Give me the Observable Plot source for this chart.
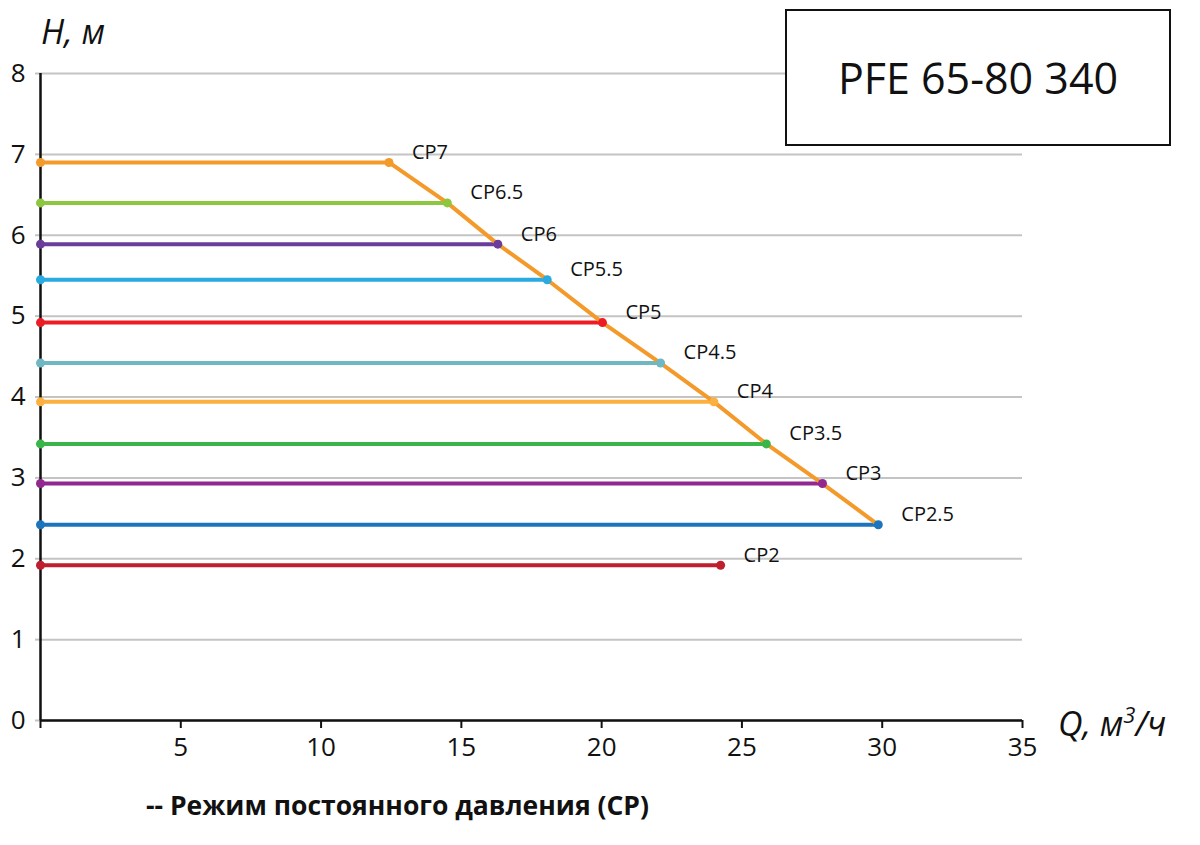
<!DOCTYPE html>
<html>
<head>
<meta charset="utf-8">
<script src="https://cdn.jsdelivr.net/npm/d3@7"></script>
<script src="https://cdn.jsdelivr.net/npm/@observablehq/plot@0.6"></script>
<style>
  html, body { margin: 0; padding: 0; background: #fff; }
  #wrap { position: relative; width: 1200px; height: 845px; font-family: "Open Sans", sans-serif; color: #111; }
  #box { position: absolute; left: 785px; top: 9px; width: 386px; height: 137px; box-sizing: border-box;
         border: 2.5px solid #111; background: #fff; display: flex; align-items: center; justify-content: center;
         font-size: 43px; color: #111; }
  .axtitle { position: absolute; font-style: italic; font-size: 34px; color: #111; white-space: nowrap; }
  #caption { height: 60px; line-height: 60px; padding-left: 146px; font-weight: 700; font-size: 26.5px; color: #111; }
</style>
</head>
<body>
<div id="wrap">
  <div id="chart"></div>
  <div id="caption">-- Режим постоянного давления (CP)</div>
  <div class="axtitle" style="left:41px; top:8px;">H, м</div>
  <div class="axtitle" style="left:1058px; top:700px;">Q, м<sup style="font-size:22px; vertical-align: 13px; line-height:0;">3</sup>/ч</div>
  <div id="box">PFE 65-80 340</div>
</div>
<script>
// Mode labels (constant pressure settings)
const labels = ["CP7", "CP6.5", "CP6", "CP5.5", "CP5", "CP4.5", "CP4", "CP3.5", "CP3", "CP2.5", "CP2"];
// Head H, m for each mode
const heads  = [6.90, 6.40, 5.89, 5.45, 4.92, 4.42, 3.94, 3.42, 2.93, 2.42, 1.92];
// Maximum flow Q, m3/h for each mode
const qMax   = [12.42, 14.50, 16.30, 18.06, 20.03, 22.10, 24.00, 25.87, 27.87, 29.86, 24.24];
// Line colours
const colors = ["#f39a2b", "#8dc63f", "#6b3d9a", "#29abe2", "#ed1c24", "#6fb7c3", "#fbb040", "#39b54a", "#92278f", "#1c75bc", "#be1e2d"];
// Boundary (max-curve) connects these modes
const boundary = ["CP7", "CP6.5", "CP6", "CP5.5", "CP5", "CP4.5", "CP4", "CP3.5", "CP3", "CP2.5"];
const xTicks = [0, 5, 10, 15, 20, 25, 30, 35];
const xTickLabels = [5, 10, 15, 20, 25, 30, 35];
const yTicks = [0, 1, 2, 3, 4, 5, 6, 7, 8];

const rows = [];
labels.forEach((l, i) => {
  rows.push({label: l, q: 0, h: heads[i]});
  rows.push({label: l, q: qMax[i], h: heads[i]});
});
const ends = labels.map((l, i) => ({label: l, q: qMax[i], h: heads[i]}));
const diag = ends.filter(d => boundary.includes(d.label)).sort((a, b) => a.q - b.q);

const chart = Plot.plot({
  width: 1200,
  height: 775,
  marginTop: 73,
  marginRight: 178,
  marginBottom: 55,
  marginLeft: 40,
  style: {fontFamily: "Open Sans, sans-serif", color: "#111", background: "transparent"},
  x: {domain: [0, 35], type: "linear"},
  y: {domain: [0, 8], type: "linear"},
  color: {domain: labels, range: colors},
  marks: [
    Plot.gridY(yTicks, {stroke: "#c4c4c4", strokeOpacity: 1, strokeWidth: 2}),
    Plot.axisY(yTicks, {tickSize: 5, stroke: "#c4c4c4", strokeWidth: 2, text: null, label: null}),
    Plot.text(yTicks, {x: yTicks.map(() => 0), y: yTicks, text: yTicks.map(String), dx: -15, textAnchor: "end", fontSize: 26, fill: "#111"}),
    Plot.axisX(xTicks, {tickSize: 8, stroke: "#111", strokeWidth: 2, text: null, label: null}),
    Plot.text(xTickLabels, {x: xTickLabels, y: xTickLabels.map(() => 0), text: xTickLabels.map(String), dy: 27, fontSize: 26, fill: "#111"}),
    Plot.ruleX([0], {stroke: "#111", strokeWidth: 2.5}),
    Plot.ruleY([0], {stroke: "#111", strokeWidth: 2.5}),
    Plot.line(rows, {x: "q", y: "h", z: "label", stroke: "label", strokeWidth: 4}),
    Plot.line(diag, {x: "q", y: "h", stroke: "#f39a2b", strokeWidth: 4}),
    Plot.dot(rows, {x: "q", y: "h", fill: "label", r: 4.5}),
    Plot.text(ends, {x: "q", y: "h", text: "label", dx: 23, dy: -10, textAnchor: "start", fontSize: 20, fill: "#111"})
  ]
});
document.getElementById("chart").appendChild(chart);
</script>
</body>
</html>
